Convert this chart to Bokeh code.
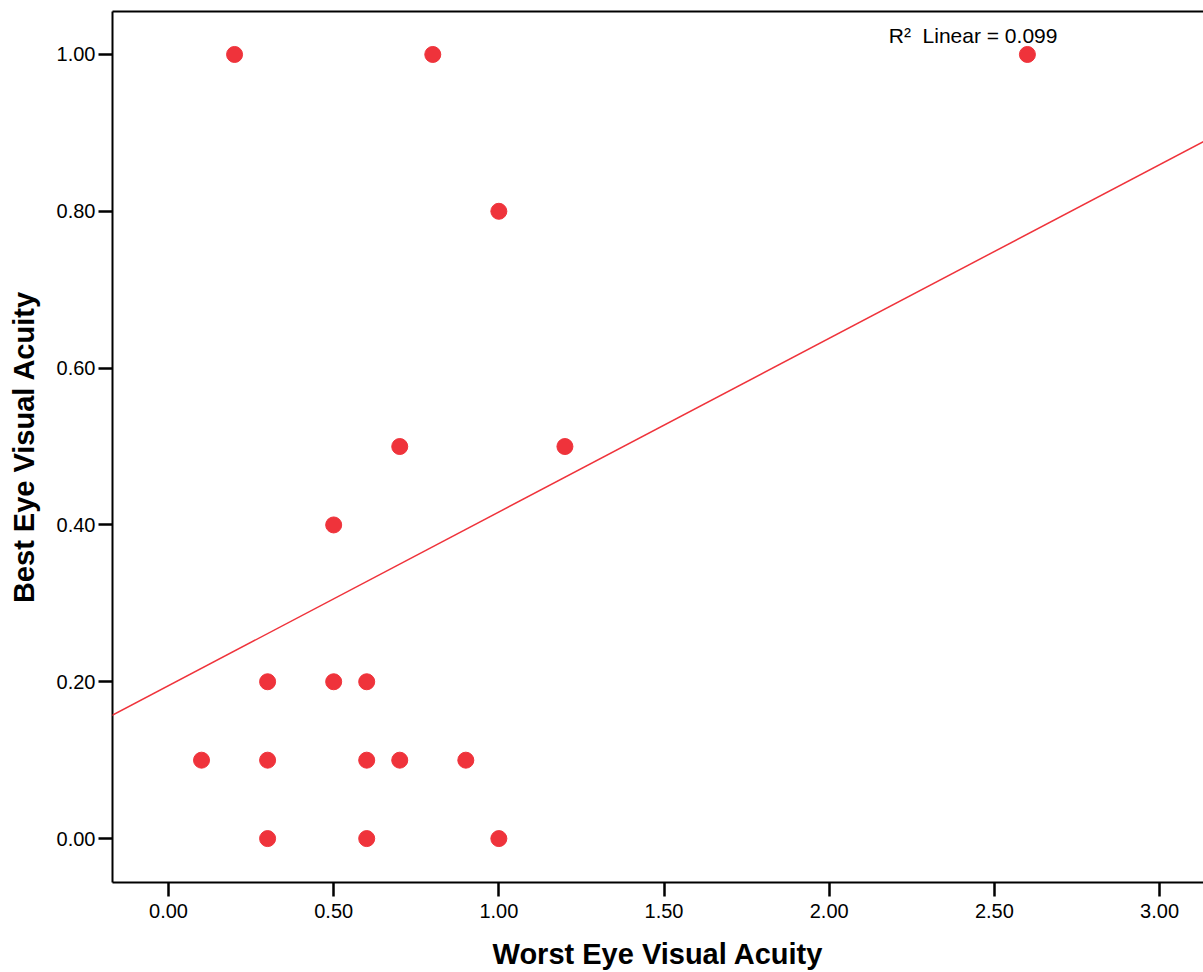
from bokeh.plotting import figure
from bokeh.models import (ColumnDataSource, Range1d, SingleIntervalTicker, NumeralTickFormatter,
                          LinearAxis, Slope, Label)
from bokeh.embed import file_html
from bokeh.resources import INLINE

# Data
worst_eye = [0.2, 0.8, 2.6, 1.0, 0.7, 1.2, 0.5, 0.3, 0.5, 0.6, 0.1, 0.3, 0.6, 0.7, 0.9, 0.3, 0.6, 1.0]
best_eye  = [1.0, 1.0, 1.0, 0.8, 0.5, 0.5, 0.4, 0.2, 0.2, 0.2, 0.1, 0.1, 0.1, 0.1, 0.1, 0.0, 0.0, 0.0]
fit_intercept = 0.195
fit_slope = 0.2215
r2_text = "R\u00b2\u00a0 Linear = 0.099"

RED = "#ef333b"
FONT = "Liberation Sans"

p = figure(width=1203, height=972, output_backend="svg", toolbar_location=None,
           x_range=Range1d(-0.1695, 3.133), y_range=Range1d(-0.056, 1.0548),
           x_axis_type=None, y_axis_type=None,
           min_border_left=112, min_border_top=11, min_border_bottom=89, min_border_right=0)
p.outline_line_color = None
p.xgrid.visible = False
p.ygrid.visible = False
p.background_fill_color = "white"
p.border_fill_color = "white"

def style(ax):
    ax.axis_line_color = "black"
    ax.axis_line_width = 2
    ax.major_tick_line_color = "black"
    ax.major_tick_line_width = 2.5
    ax.major_tick_out = 14
    ax.major_tick_in = 0
    ax.minor_tick_line_color = None
    ax.major_label_text_font = FONT
    ax.major_label_text_font_size = "20px"
    ax.major_label_text_color = "black"
    ax.axis_label_text_font = FONT
    ax.axis_label_text_font_size = "29px"
    ax.axis_label_text_font_style = "bold"
    ax.axis_label_text_color = "black"

xaxis = LinearAxis(ticker=SingleIntervalTicker(interval=0.5),
                   formatter=NumeralTickFormatter(format="0.00"),
                   axis_label="Worst Eye Visual Acuity")
style(xaxis)
xaxis.major_label_standoff = 7
xaxis.axis_label_standoff = 17
p.add_layout(xaxis, "below")

yaxis = LinearAxis(ticker=SingleIntervalTicker(interval=0.2),
                   formatter=NumeralTickFormatter(format="0.00"),
                   axis_label="Best Eye Visual Acuity")
style(yaxis)
yaxis.major_label_standoff = 3
yaxis.axis_label_standoff = 14
p.add_layout(yaxis, "left")

top = LinearAxis(ticker=SingleIntervalTicker(interval=0.5), major_label_text_font_size="0px",
                 major_tick_line_color=None, minor_tick_line_color=None,
                 axis_line_color="black", axis_line_width=2)
top.major_label_text_color = None
p.add_layout(top, "above")

p.add_layout(Slope(gradient=fit_slope, y_intercept=fit_intercept, line_color=RED, line_width=1.5))

src = ColumnDataSource(dict(x=worst_eye, y=best_eye))
p.scatter("x", "y", source=src, size=16, fill_color=RED, line_color=RED)

p.add_layout(Label(x=2.6, y=1.0, x_offset=30, y_offset=19, text=r2_text, text_align="right",
                   text_baseline="middle",
                   text_font=FONT, text_font_size="21px", text_color="black"))

open("out.html", "w").write(file_html(p, INLINE))
